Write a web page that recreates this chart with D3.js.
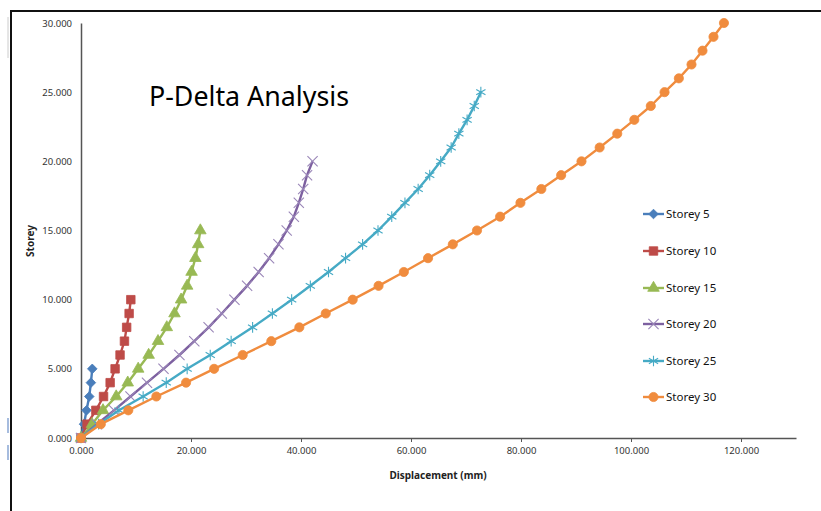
<!DOCTYPE html>
<html>
<head>
<meta charset="utf-8">
<script src="https://cdn.jsdelivr.net/npm/d3@7"></script>
<style>
  html, body { margin: 0; padding: 0; background: #fff; }
  svg { display: block; }
</style>
</head>
<body>
<div id="chart"></div>
<script>
'use strict';

// storey levels (y) and displacement in mm (x) for each building
const storeyLevels = [0,1,2,3,4,5,6,7,8,9,10,11,12,13,14,15,16,17,18,19,20,21,22,23,24,25,26,27,28,29,30];

const disp5  = [0, 0.55, 1.0, 1.5, 1.8, 2.05];
const disp10 = [0, 1.1, 2.7, 4.1, 5.3, 6.2, 7.1, 7.9, 8.3, 8.75, 9.06];
const disp15 = [0, 2.0, 4.0, 6.4, 8.5, 10.4, 12.3, 14.0, 15.6, 17.0, 18.2, 19.3, 20.1, 20.8, 21.3, 21.7];
const disp20 = [0, 2.9, 6.0, 9.0, 12.0, 15.0, 17.9, 20.6, 23.2, 25.6, 27.9, 30.2, 32.3, 34.2, 35.9, 37.4,
                38.7, 39.6, 40.4, 41.1, 42.1];
const disp25 = [0, 3.2, 6.9, 11.3, 15.5, 19.3, 23.5, 27.3, 31.2, 34.8, 38.3, 41.7, 45.0, 48.1, 51.2, 54.0,
                56.5, 58.9, 61.3, 63.4, 65.4, 67.3, 68.7, 70.2, 71.5, 72.7];
const disp30 = [0, 3.6, 8.6, 13.7, 19.1, 24.2, 29.4, 34.6, 39.7, 44.5, 49.4, 54.1, 58.7, 63.1, 67.6, 72.0,
                76.2, 79.9, 83.7, 87.3, 91.0, 94.3, 97.5, 100.6, 103.6, 106.1, 108.7, 111.0, 113.0, 115.0, 116.9];

const seriesNames = ['Storey 5', 'Storey 10', 'Storey 15', 'Storey 20', 'Storey 25', 'Storey 30'];
const seriesDisp = [disp5, disp10, disp15, disp20, disp25, disp30];

const xTicks = [0, 20, 40, 60, 80, 100, 120];
const yTicks = [0, 5, 10, 15, 20, 25, 30];

// styling
const colors = ['#4a7ebb', '#be4b48', '#98b954', '#7d60a0', '#46aac5', '#f08c3e'];
const markerColors = ['#4a7ebb', '#be4b48', '#98b954', '#9a86b8', '#46aac5', '#f08c3e'];
const shapes = ['diamond', 'square', 'triangle', 'times', 'asterisk', 'circle'];
const font = '"Noto Sans", "Open Sans", sans-serif';

const dims = {
  width: 821,
  height: 511,
  margin: { top: 23, left: 81, right: 25, bottom: 73 }
};
dims.ctrWidth = dims.width - dims.margin.left - dims.margin.right;   // 715
dims.ctrHeight = dims.height - dims.margin.top - dims.margin.bottom; // 415

const svg = d3.select('#chart')
  .append('svg')
  .attr('width', dims.width)
  .attr('height', dims.height);

// outer chart frame (top and left edges visible)
svg.append('path')
  .attr('d', 'M11,511 L11,11 L821,11')
  .attr('fill', 'none')
  .attr('stroke', '#111')
  .attr('stroke-width', 2);

// stray marks left of the frame
svg.append('line').attr('x1', 8).attr('x2', 8).attr('y1', 17).attr('y2', 58)
  .attr('stroke', '#ccc').attr('stroke-width', 1);
svg.append('line').attr('x1', 8).attr('x2', 8).attr('y1', 418).attr('y2', 433)
  .attr('stroke', '#6b8fc9').attr('stroke-width', 1.2);
svg.append('line').attr('x1', 8).attr('x2', 8).attr('y1', 445).attr('y2', 460)
  .attr('stroke', '#6b8fc9').attr('stroke-width', 1.2);

const chart_g = svg.append('g')
  .attr('transform', `translate(${dims.margin.left},${dims.margin.top})`);

const xScale = d3.scaleLinear().domain([0, 130]).range([0, dims.ctrWidth]);
const yScale = d3.scaleLinear().domain([0, 30]).range([dims.ctrHeight, 0]);

const fmt = d3.format('.3f');

// x axis
const xAxisGroup = chart_g.append('g')
  .attr('transform', `translate(0,${dims.ctrHeight})`)
  .call(d3.axisBottom(xScale).tickValues(xTicks).tickFormat(fmt).tickSize(4).tickSizeOuter(0))
  .style('font-family', font)
  .style('font-size', '9.5px');
xAxisGroup.select('.domain').attr('stroke', '#555').attr('stroke-width', 1.5);
xAxisGroup.selectAll('.tick line').attr('stroke', '#555');
xAxisGroup.selectAll('.tick text').attr('fill', '#333').attr('dy', '0.9em');

// y axis
const yAxisGroup = chart_g.append('g')
  .call(d3.axisLeft(yScale).tickValues(yTicks).tickFormat(fmt).tickSize(0).tickPadding(9))
  .style('font-family', font)
  .style('font-size', '9.5px');
yAxisGroup.select('.domain').attr('stroke', '#555').attr('stroke-width', 1.5);
yAxisGroup.selectAll('.tick text').attr('fill', '#333');

// axis titles
svg.append('text')
  .attr('x', 438)
  .attr('y', 479)
  .attr('text-anchor', 'middle')
  .style('font-family', font)
  .style('font-weight', 'bold')
  .style('font-size', '10px')
  .attr('fill', '#222')
  .text('Displacement (mm)');

svg.append('text')
  .attr('transform', 'translate(34,241) rotate(-90)')
  .attr('text-anchor', 'middle')
  .style('font-family', font)
  .style('font-weight', 'bold')
  .style('font-size', '10px')
  .attr('fill', '#222')
  .text('Storey');

// title
svg.append('text')
  .attr('x', 149)
  .attr('y', 106)
  .style('font-family', font)
  .style('font-size', '26.8px')
  .attr('fill', '#000')
  .text('P-Delta Analysis');

// marker helper
const symbolFor = {
  diamond: d3.symbol(d3.symbolSquare, 46),
  square: d3.symbol(d3.symbolSquare, 72),
  triangle: d3.symbol(d3.symbolTriangle, 58),
  times: d3.symbol(d3.symbolTimes, 70),
  asterisk: d3.symbol(d3.symbolAsterisk, 80),
  circle: d3.symbol(d3.symbolCircle, 66)
};

function drawMarker(sel, i) {
  const shape = shapes[i];
  const open = shape === 'times' || shape === 'asterisk';
  sel.append('path')
    .attr('d', symbolFor[shape]())
    .attr('transform', shape === 'diamond' ? 'rotate(45)' : null)
    .attr('fill', open ? 'none' : markerColors[i])
    .attr('stroke', markerColors[i])
    .attr('stroke-width', open ? 1.1 : 0.8);
}

const line = d3.line()
  .x(d => xScale(d.x))
  .y(d => yScale(d.y));

const data = seriesNames.map((name, i) => ({
  name: name,
  idx: i,
  values: seriesDisp[i].map((x, j) => ({ x: x, y: storeyLevels[j] }))
}));

// lines and markers, later series on top
data.forEach(function(s) {
  const g = chart_g.append('g').attr('class', 'series');
  g.append('path')
    .datum(s.values)
    .attr('d', line)
    .attr('fill', 'none')
    .attr('stroke', colors[s.idx])
    .attr('stroke-width', 2.4)
    .attr('stroke-linejoin', 'round');
  g.selectAll('g.pt')
    .data(s.values)
    .join('g')
    .attr('class', 'pt')
    .attr('transform', d => `translate(${xScale(d.x)},${yScale(d.y)})`)
    .each(function() { drawMarker(d3.select(this), s.idx); });
});

// legend
const legendY = [214, 251, 288, 324, 361, 397];
const legend = svg.append('g')
  .selectAll('g')
  .data(data)
  .join('g')
  .attr('transform', (d, i) => `translate(643,${legendY[i]})`);

legend.append('line')
  .attr('x1', 0).attr('x2', 21)
  .attr('stroke', d => colors[d.idx])
  .attr('stroke-width', 2.4);

legend.append('g')
  .attr('transform', 'translate(10.5,0)')
  .each(function(d) { drawMarker(d3.select(this), d.idx); });

legend.append('text')
  .attr('x', 23)
  .attr('dy', '0.35em')
  .style('font-family', font)
  .style('font-size', '11.5px')
  .attr('fill', '#111')
  .text(d => d.name);
</script>
</body>
</html>
